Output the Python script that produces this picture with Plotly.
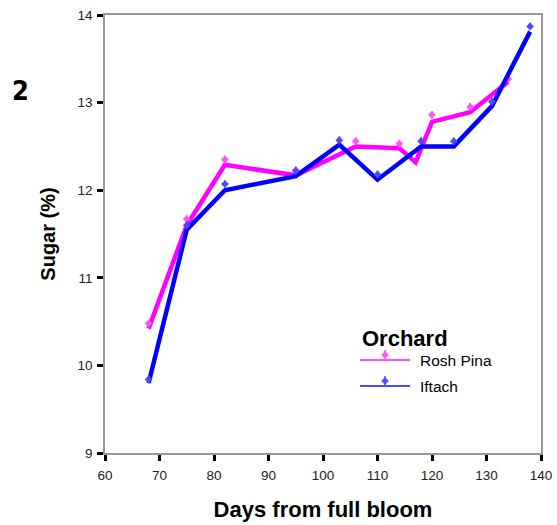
import plotly.graph_objects as go

# Sugar content over the season for two orchards
rosh_days = [68, 75, 82, 95, 106, 114, 117, 120, 127, 134]
rosh_line = [10.42, 11.60, 12.29, 12.17, 12.50, 12.48, 12.32, 12.78, 12.89, 13.24]
rosh_mark_days = [68, 75, 82, 95, 106, 114, 120, 127, 134]
rosh_mean = [10.48, 11.67, 12.35, 12.23, 12.56, 12.53, 12.86, 12.95, 13.27]

iftach_days = [68, 75, 82, 95, 103, 110, 118, 124, 131, 138]
iftach_line = [9.80, 11.55, 12.00, 12.16, 12.52, 12.12, 12.50, 12.50, 12.96, 13.81]
iftach_mean = [9.84, 11.60, 12.07, 12.22, 12.57, 12.18, 12.56, 12.56, 13.01, 13.87]

series_names = ["Rosh Pina", "Iftach"]
x_ticks = [60, 70, 80, 90, 100, 110, 120, 130, 140]
y_ticks = [9, 10, 11, 12, 13, 14]

PINK, PINK_M = "#ff00ff", "#ff55ff"
BLUE, BLUE_M = "#0000ff", "#4a4aff"
FONT = "Liberation Sans, Arial, sans-serif"

W, H = 557, 525
ML, MR, MT, MB = 105, 16, 15, 72


def px(x):
    return (x - ML) / (W - ML - MR)


def py(y):
    return (H - MB - y) / (H - MT - MB)


fig = go.Figure()

for days, line, mdays, mean, c, cm in [
    (rosh_days, rosh_line, rosh_mark_days, rosh_mean, PINK, PINK_M),
    (iftach_days, iftach_line, iftach_days, iftach_mean, BLUE, BLUE_M),
]:
    fig.add_trace(go.Scatter(x=days, y=line, mode="lines", showlegend=False,
                             line=dict(color=c, width=4.5)))
    fig.add_trace(go.Scatter(x=mdays, y=mean, mode="markers", showlegend=False,
                             marker=dict(symbol="diamond", size=6, color=cm),
                             error_y=dict(type="constant", value=0.045, color=cm,
                                          thickness=1.5, width=0)))

# hand-drawn legend block
shapes = []
annotations = [dict(text="<b>Orchard</b>", x=px(360), y=py(338), xref="paper", yref="paper",
                    xanchor="left", yanchor="middle", showarrow=False,
                    font=dict(family=FONT, size=22, color="black"))]
for name, color, ly in [(series_names[0], PINK_M, 360), (series_names[1], BLUE_M, 386)]:
    shapes.append(dict(type="line", xref="paper", yref="paper",
                       x0=px(360), x1=px(410), y0=py(ly), y1=py(ly),
                       line=dict(color=color, width=2)))
    my = ly - 5
    shapes.append(dict(type="line", xref="paper", yref="paper",
                       x0=px(385), x1=px(385), y0=py(my - 5), y1=py(my + 5),
                       line=dict(color=color, width=1.5)))
    shapes.append(dict(type="path", xref="paper", yref="paper",
                       path=(f"M {px(385)} {py(my - 3.5)} L {px(388.5)} {py(my)} "
                             f"L {px(385)} {py(my + 3.5)} L {px(381.5)} {py(my)} Z"),
                       fillcolor=color, line=dict(color=color, width=0.5)))
    annotations.append(dict(text=name, x=px(418), y=py(ly), xref="paper", yref="paper",
                            xanchor="left", yanchor="middle", showarrow=False,
                            font=dict(family=FONT, size=15.5, color="black")))

annotations.append(dict(text="<b>2</b>", x=px(20), y=py(90), xref="paper", yref="paper",
                        xanchor="center", yanchor="middle", showarrow=False,
                        font=dict(family="DejaVu Sans Condensed, Liberation Sans Narrow, sans-serif",
                                  size=27, color="black")))

axis_common = dict(showgrid=False, zeroline=False, showline=True, linecolor="#999999",
                   linewidth=1.5, mirror=True, ticks="outside", ticklen=6, tickwidth=3,
                   tickcolor="black", automargin=False,
                   tickfont=dict(family=FONT, size=13.5, color="#222"))

fig.update_layout(
    width=W, height=H,
    margin=dict(l=ML, r=MR, t=MT, b=MB),
    paper_bgcolor="white", plot_bgcolor="white",
    showlegend=False,
    xaxis=dict(range=[60, 140], tickvals=x_ticks, ticklabelstandoff=3, **axis_common,
               title=dict(text="<b>Days from full bloom</b>", standoff=20,
                          font=dict(family=FONT, size=22, color="black"))),
    yaxis=dict(range=[9, 14], tickvals=y_ticks, ticklabelstandoff=2, **axis_common,
               title=dict(text="<b>Sugar (%)</b>", standoff=17,
                          font=dict(family=FONT, size=20, color="black"))),
    shapes=shapes,
    annotations=annotations,
)

fig.write_html("out.html")
